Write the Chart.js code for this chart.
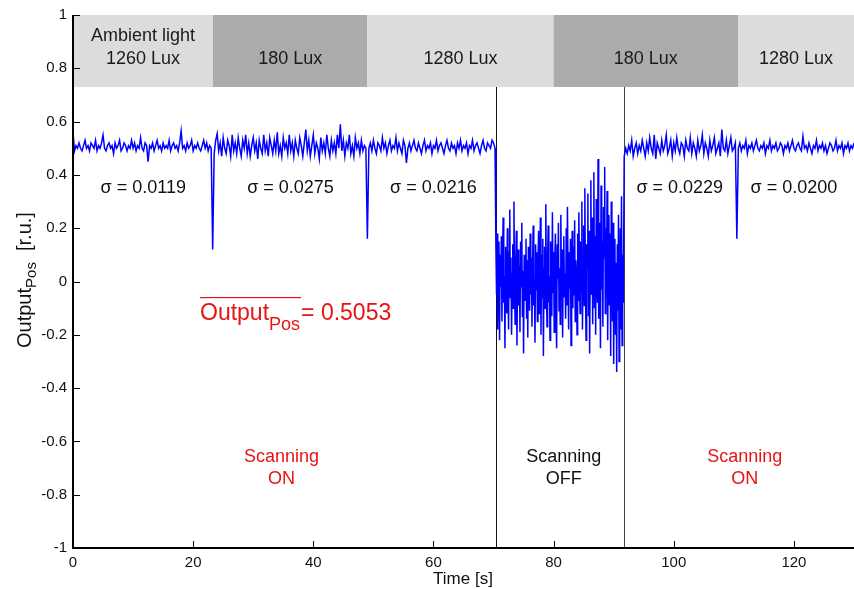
<!DOCTYPE html>
<html>
<head>
<meta charset="utf-8">
<script src="https://cdn.jsdelivr.net/npm/chart.js@4.4.0/dist/chart.umd.min.js"></script>
<style>
  html, body { margin: 0; padding: 0; background: #fff; }
  canvas { display: block; }
</style>
</head>
<body>
<canvas id="posChart" width="854" height="589"></canvas>
<script>
// ---------- Data ----------
// scanning ON, 0 s .. 70.25 s, one sample every 0.25 s
const onStart1 = 0, onStep = 0.25;
const onSegment1 = [
  0.56,0.49,0.51,0.50,0.52,0.50,0.49,0.51,0.53,0.50,
  0.51,0.49,0.52,0.51,0.50,0.53,0.49,0.51,0.50,0.52,
  0.55,0.50,0.49,0.51,0.52,0.50,0.51,0.48,0.52,0.50,
  0.51,0.53,0.49,0.50,0.52,0.51,0.49,0.51,0.50,0.53,
  0.50,0.52,0.49,0.51,0.50,0.54,0.50,0.49,0.52,0.51,
  0.45,0.51,0.50,0.52,0.49,0.51,0.53,0.50,0.51,0.49,
  0.52,0.50,0.51,0.50,0.53,0.49,0.51,0.52,0.50,0.51,
  0.49,0.52,0.565,0.50,0.51,0.49,0.52,0.50,0.51,0.53,
  0.49,0.51,0.50,0.52,0.50,0.49,0.51,0.53,0.50,0.52,
  0.49,0.51,0.50,
  0.12,
  0.48,0.53,0.555,0.49,0.52,0.47,0.54,0.50,0.48,0.53,
  0.51,0.47,0.55,0.49,0.52,0.48,0.54,0.50,0.47,0.53,
  0.50,0.55,0.48,0.52,0.47,0.51,0.54,0.49,0.52,0.46,
  0.53,0.50,0.48,0.55,0.49,0.52,0.47,0.54,0.51,0.48,
  0.53,0.49,0.56,0.48,0.51,0.47,0.54,0.50,0.52,0.48,
  0.55,0.49,0.52,0.47,0.53,0.50,0.48,0.54,0.51,0.47,
  0.52,0.57,0.49,0.53,0.47,0.51,0.55,0.48,0.52,0.50,
  0.46,0.54,0.49,0.52,0.48,0.55,0.50,0.47,0.53,0.49,
  0.52,0.48,0.55,0.50,0.59,0.49,0.53,0.47,0.52,0.50,
  0.55,0.48,0.51,0.47,0.54,0.50,0.52,0.48,0.53,0.49,
  0.51,0.50,
  0.16,
  0.50,0.52,0.49,0.53,0.50,0.48,0.52,0.51,0.49,0.54,
  0.50,0.52,0.48,0.51,0.53,0.49,0.51,0.50,0.54,0.49,
  0.52,0.50,0.48,0.53,0.51,0.445,0.50,0.52,0.49,0.51,
  0.53,0.50,0.49,0.52,0.50,0.48,0.51,0.53,0.49,0.51,
  0.50,0.52,0.48,0.51,0.50,0.53,0.49,0.51,0.52,0.50,
  0.48,0.51,0.53,0.50,0.49,0.52,0.50,0.51,0.48,0.52,
  0.50,0.53,0.49,0.51,0.50,0.52,0.48,0.51,0.50,0.53,
  0.49,0.51,0.52,0.50,0.48,0.51,0.53,0.50,0.49,0.52,
  0.51,0.50,0.53,0.52,0.50
];

// scanning OFF, 70.4 s .. 91.6 s, one sample every 0.1 s
const offStart = 70.4, offStep = 0.1;
const offSegment = [
  0.12,-0.05,0.18,-0.18,0.05,0.15,-0.22,0.10,-0.02,0.17,
  -0.15,0.08,0.24,-0.08,0.02,-0.25,0.13,0.05,-0.12,0.20,
  0.00,-0.18,0.11,0.27,-0.06,0.09,-0.20,0.03,0.14,-0.10,
  0.30,-0.04,-0.16,0.07,0.19,-0.24,0.02,0.12,-0.09,0.06,
  -0.19,0.15,-0.02,0.22,-0.13,0.04,-0.27,0.10,0.01,-0.07,
  0.16,-0.14,0.08,-0.21,0.13,0.03,-0.11,0.18,-0.05,0.09,
  -0.17,0.06,0.21,-0.09,0.01,-0.23,0.14,-0.03,0.11,-0.15,
  0.07,0.19,-0.12,0.03,0.24,-0.20,0.10,-0.06,0.16,-0.28,
  0.05,0.13,-0.10,0.29,-0.02,-0.17,0.09,0.21,-0.08,0.02,
  -0.22,0.15,0.06,-0.13,0.26,-0.04,0.11,-0.19,0.08,0.18,
  -0.07,-0.25,0.14,0.01,0.22,-0.11,0.05,-0.16,0.25,-0.01,
  0.12,-0.21,0.09,0.17,-0.06,0.03,-0.14,0.20,-0.09,0.28,
  0.04,-0.18,0.11,-0.03,0.16,-0.24,0.07,0.19,-0.10,0.13,
  -0.05,0.23,-0.15,0.08,0.02,-0.20,0.18,-0.07,0.26,0.05,
  -0.12,0.15,-0.04,0.30,-0.18,0.09,0.21,-0.09,0.35,-0.02,
  -0.22,0.14,0.06,0.33,-0.13,0.19,-0.27,0.10,0.38,-0.05,
  0.24,-0.16,0.08,0.41,-0.10,0.17,-0.20,0.31,0.02,-0.08,
  0.46,-0.14,0.22,0.05,-0.25,0.36,-0.03,0.15,-0.17,0.28,
  0.09,0.43,-0.12,0.20,-0.06,0.34,-0.22,0.12,0.25,-0.09,
  0.18,-0.28,0.30,0.04,-0.15,0.22,-0.31,0.10,0.16,-0.20,
  0.07,-0.34,0.14,-0.11,0.25,-0.30,0.05,0.20,-0.18,0.32,
  -0.24,0.10,-0.08
];

// scanning ON again, 91.75 s .. 130 s, one sample every 0.25 s
const onStart2 = 91.75;
const onSegment2 = [
  0.47,0.50,0.48,0.51,0.49,0.53,0.47,0.50,0.52,0.48,
  0.51,0.49,0.53,0.50,0.47,0.52,0.49,0.54,0.50,0.48,
  0.55,0.46,0.52,0.50,0.48,0.53,0.49,0.51,0.55,0.48,
  0.50,0.53,0.47,0.52,0.49,0.54,0.50,0.48,0.52,0.51,
  0.47,0.53,0.50,0.49,0.54,0.48,0.52,0.50,0.47,0.53,
  0.49,0.51,0.55,0.48,0.52,0.50,0.47,0.53,0.49,0.51,
  0.54,0.48,0.50,0.52,0.47,0.57,0.50,0.49,0.53,0.48,
  0.51,0.54,0.49,0.50,0.52,
  0.16,
  0.50,0.52,0.49,0.51,
  0.50,0.53,0.48,0.51,0.50,0.52,0.49,0.51,0.53,0.50,
  0.49,0.51,0.50,0.52,0.48,0.51,0.50,0.53,0.49,0.51,
  0.50,0.52,0.49,0.50,0.52,0.51,0.48,0.51,0.50,0.52,
  0.49,0.51,0.53,0.50,0.49,0.51,0.52,0.50,0.49,0.545,
  0.50,0.51,0.49,0.52,0.50,0.48,0.51,0.50,0.53,0.49,
  0.51,0.50,0.52,0.49,0.51,0.48,0.50,0.52,0.51,0.49,
  0.50,0.53,0.49,0.51,0.50,0.52,0.48,0.51,0.50,0.52,
  0.49,0.51,0.50,0.52
];

// ambient light phases (top strip)
const bandStart = [0, 23.3, 49, 80, 110.7];
const bandEnd = [23.3, 49, 80, 110.7, 130];
const bandLabels = [["Ambient light", "1260 Lux"], ["180 Lux"], ["1280 Lux"], ["180 Lux"], ["1280 Lux"]];
const bandDark = [false, true, false, true, false];

// noise per phase
const sigmaLabels = ["σ = 0.0119", "σ = 0.0275", "σ = 0.0216", "σ = 0.0229", "σ = 0.0200"];
const sigmaTimes = [11.7, 36.2, 60.0, 101.0, 120.0];

const scanSwitchTimes = [70.35, 91.7];
const xTicks = [0, 20, 40, 60, 80, 100, 120];
const yTicks = [-1, -0.8, -0.6, -0.4, -0.2, 0, 0.2, 0.4, 0.6, 0.8, 1];

const points = [];
onSegment1.forEach((v, i) => points.push({ x: onStart1 + i * onStep, y: v }));
offSegment.forEach((v, i) => points.push({ x: offStart + i * offStep, y: v }));
onSegment2.forEach((v, i) => points.push({ x: onStart2 + i * onStep, y: v }));

const FONT = "'Liberation Sans', Arial, Helvetica, sans-serif";
const RED = "rgb(230,20,20)";

// ---------- background: light strip + switch lines ----------
const backdrop = {
  id: "backdrop",
  beforeDatasetsDraw(chart) {
    const { ctx, scales: { x, y } } = chart;
    ctx.save();
    bandStart.forEach((s, i) => {
      const x0 = x.getPixelForValue(s), x1 = x.getPixelForValue(bandEnd[i]);
      const y0 = y.getPixelForValue(1), y1 = y.getPixelForValue(0.73);
      ctx.fillStyle = bandDark[i] ? "#ababab" : "#dcdcdc";
      ctx.fillRect(x0, y0, x1 - x0, y1 - y0);
    });
    scanSwitchTimes.forEach((t, i) => {
      const px = Math.round(x.getPixelForValue(t)) + 0.5;
      ctx.strokeStyle = i === 0 ? "#111" : "#444";
      ctx.lineWidth = 1;
      ctx.beginPath();
      ctx.moveTo(px, y.getPixelForValue(0.73));
      ctx.lineTo(px, y.getPixelForValue(-1));
      ctx.stroke();
    });
    ctx.restore();
  },
  afterDatasetsDraw(chart) {
    const { ctx, chartArea: a, scales: { x, y } } = chart;
    ctx.save();
    // axes, ticks pointing inwards
    ctx.fillStyle = "#000";
    ctx.fillRect(a.left - 1, a.top, 2, a.bottom - a.top + 1);
    ctx.fillRect(a.left - 1, a.bottom - 1, a.right - a.left + 1, 2);
    ctx.strokeStyle = "#000";
    ctx.lineWidth = 1;
    ctx.beginPath();
    yTicks.forEach(v => {
      const py = Math.round(y.getPixelForValue(v)) + 0.5;
      ctx.moveTo(a.left, py); ctx.lineTo(a.left + 7, py);
    });
    xTicks.forEach(v => {
      const px = Math.round(x.getPixelForValue(v)) + 0.5;
      ctx.moveTo(px, a.bottom); ctx.lineTo(px, a.bottom - 7);
    });
    ctx.stroke();

    ctx.textAlign = "center";
    ctx.textBaseline = "middle";
    ctx.font = "18px " + FONT;
    ctx.fillStyle = "#1a1a1a";
    bandStart.forEach((s, i) => {
      const cx = x.getPixelForValue((s + bandEnd[i]) / 2);
      const lines = bandLabels[i];
      if (lines.length === 2) {
        ctx.fillText(lines[0], cx, 36);
        ctx.fillText(lines[1], cx, 59);
      } else {
        ctx.fillText(lines[0], cx, 59);
      }
    });

    ctx.fillStyle = "#111";
    sigmaLabels.forEach((txt, i) => ctx.fillText(txt, x.getPixelForValue(sigmaTimes[i]), 188));

    // Scanning ON / OFF
    [[34.7, RED], [81.7, "#111"], [111.8, RED]].forEach(([t, c], i) => {
      ctx.fillStyle = c;
      const cx = x.getPixelForValue(t);
      ctx.fillText("Scanning", cx, 457);
      ctx.fillText(i === 1 ? "OFF" : "ON", cx, 479);
    });

    // mean value with overline
    ctx.textAlign = "left";
    ctx.textBaseline = "alphabetic";
    ctx.fillStyle = RED;
    ctx.font = "23px " + FONT;
    ctx.fillText("Output", 200, 320);
    const w1 = ctx.measureText("Output").width;
    ctx.font = "18px " + FONT;
    ctx.fillText("Pos", 200 + w1, 330);
    const w2 = ctx.measureText("Pos").width;
    ctx.font = "23px " + FONT;
    ctx.fillText("= 0.5053", 200 + w1 + w2 + 1, 320);
    ctx.fillRect(200, 297, w1 + w2 + 1, 1.2);

    // axis titles
    ctx.fillStyle = "#111";
    ctx.font = "17px " + FONT;
    ctx.textAlign = "center";
    ctx.fillText("Time [s]", 463, 584);

    ctx.translate(31, 348);
    ctx.rotate(-Math.PI / 2);
    ctx.textAlign = "left";
    ctx.font = "20px " + FONT;
    ctx.fillText("Output", 0, 0);
    let off = ctx.measureText("Output").width;
    ctx.font = "15px " + FONT;
    ctx.fillText("Pos", off, 5);
    off += ctx.measureText("Pos").width;
    ctx.font = "20px " + FONT;
    ctx.fillText("  [r.u.]", off, 0);
    ctx.restore();
  }
};

new Chart(document.getElementById("posChart"), {
  type: "line",
  data: {
    datasets: [{
      data: points,
      borderColor: "#0000ff",
      borderWidth: 1.5,
      pointRadius: 0,
      tension: 0,
      fill: false
    }]
  },
  options: {
    responsive: false,
    animation: false,
    devicePixelRatio: 1,
    layout: { padding: { top: 15, right: 0, left: 0, bottom: 0 } },
    plugins: { legend: { display: false }, tooltip: { enabled: false } },
    scales: {
      x: {
        type: "linear",
        min: 0,
        max: 130,
        afterBuildTicks: s => { s.ticks = xTicks.map(v => ({ value: v })); },
        afterFit: s => { s.height = 41; },
        grid: { display: false, drawTicks: false },
        border: { display: false },
        ticks: { font: { size: 15, family: FONT }, color: "#111", padding: 6, maxRotation: 0, autoSkip: false }
      },
      y: {
        type: "linear",
        min: -1,
        max: 1,
        afterBuildTicks: s => { s.ticks = yTicks.map(v => ({ value: v })); },
        afterFit: s => { s.width = 73; },
        grid: { display: false, drawTicks: false },
        border: { display: false },
        ticks: { font: { size: 15, family: FONT }, color: "#111", padding: 6, autoSkip: false, callback: v => String(v) }
      }
    }
  },
  plugins: [backdrop]
});
</script>
</body>
</html>
